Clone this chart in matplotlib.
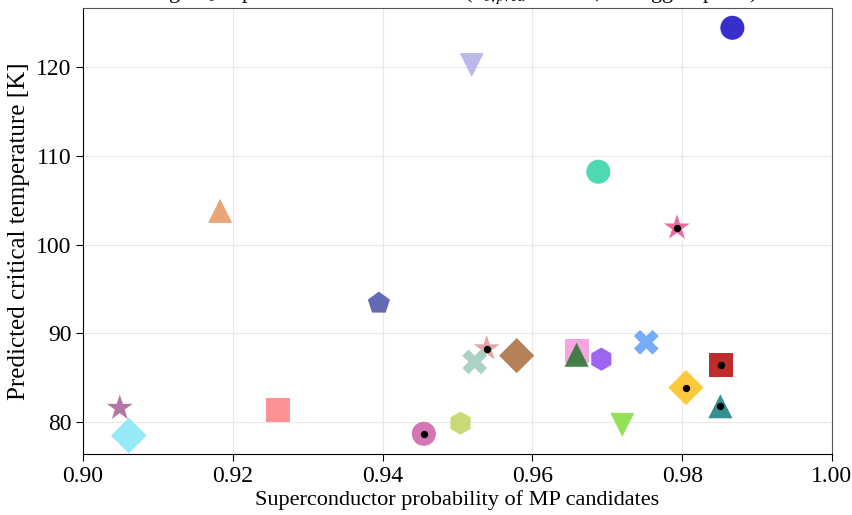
import matplotlib
matplotlib.use("Agg")
import matplotlib.pyplot as plt

plt.rcParams['font.family'] = ['Liberation Serif', 'DejaVu Serif']
plt.rcParams['mathtext.fontset'] = 'stix'

# superconductor probability, predicted Tc, marker, colour, has dot
prob = [0.9867, 0.9519, 0.9688, 0.9793, 0.9183, 0.9395, 0.9539, 0.9523,
        0.9579, 0.9660, 0.9659, 0.9692, 0.9752, 0.9852, 0.9805, 0.9851,
        0.9720, 0.9504, 0.9455, 0.9049, 0.9061, 0.9260]
tc = [124.4, 120.2, 108.2, 101.9, 103.8, 93.4, 88.3, 86.8,
      87.5, 88.0, 87.6, 87.1, 89.0, 86.4, 83.9, 81.8,
      79.7, 79.9, 78.7, 81.6, 78.5, 81.4]
markers = ['o', 'v', 'o', '*', '^', 'p', '*', 'X',
           'D', 's', '^', 'h', 'X', 's', 'D', '^',
           'v', 'h', 'o', '*', 'D', 's']
colors = ['#2a25c8', '#b8b6ea', '#45d6b0', '#f0609a', '#e8a070', '#5d62b0',
          '#e0a0a0', '#a8cfc4', '#b07a50', '#f6a0e0', '#3a7a40', '#9a5cf0',
          '#70a8f8', '#bb2020', '#fcc630', '#2a8a8c', '#90e050', '#c8d870',
          '#d070b0', '#b070a0', '#90e8f8', '#fc8c8c']
dots = [0, 0, 0, 1, 0, 0, 1, 0, 0, 0, 0, 0, 0, 1, 1, 1, 0, 0, 1, 0, 0, 0]
sizes = [300, 300, 300, 380, 300, 280, 380, 320, 320, 300, 300, 280, 320,
         300, 320, 300, 300, 280, 300, 380, 330, 300]

fig = plt.figure(figsize=(8.52, 5.15), dpi=100)
ax = fig.add_axes([0.0975, 0.118, 0.879, 0.866])

for i in range(len(prob)):
    ax.scatter(prob[i], tc[i], marker=markers[i], s=sizes[i], c=colors[i],
               alpha=0.95, edgecolors='none', zorder=3)
    if dots[i]:
        ax.scatter(prob[i], tc[i], marker='o', s=18, c='black', zorder=4)

ax.set_xlim(0.90, 1.00)
ax.set_ylim(76.4, 126.6)
ax.set_xticks([0.90, 0.92, 0.94, 0.96, 0.98, 1.00])
ax.set_xticklabels(['0.90', '0.92', '0.94', '0.96', '0.98', '1.00'])
ax.set_yticks([80, 90, 100, 110, 120])
ax.grid(True, color='#e8e8e8', linewidth=0.8, zorder=0)
ax.set_axisbelow(True)
ax.tick_params(labelsize=17, length=5)
for s in ['top', 'right']:
    ax.spines[s].set_color('#555555')

ax.set_xlabel('Superconductor probability of MP candidates', fontsize=16, labelpad=2)
ax.set_ylabel('Predicted critical temperature [K]', fontsize=18, labelpad=4)
fig.text(0.53, 1.012, r'High $T_c$ superconductor candidates ($T_{c,pred}$ > 77 K, 20 biggest prob.)',
         ha='center', va='center', fontsize=16)

fig.savefig('out.png', dpi=100)
